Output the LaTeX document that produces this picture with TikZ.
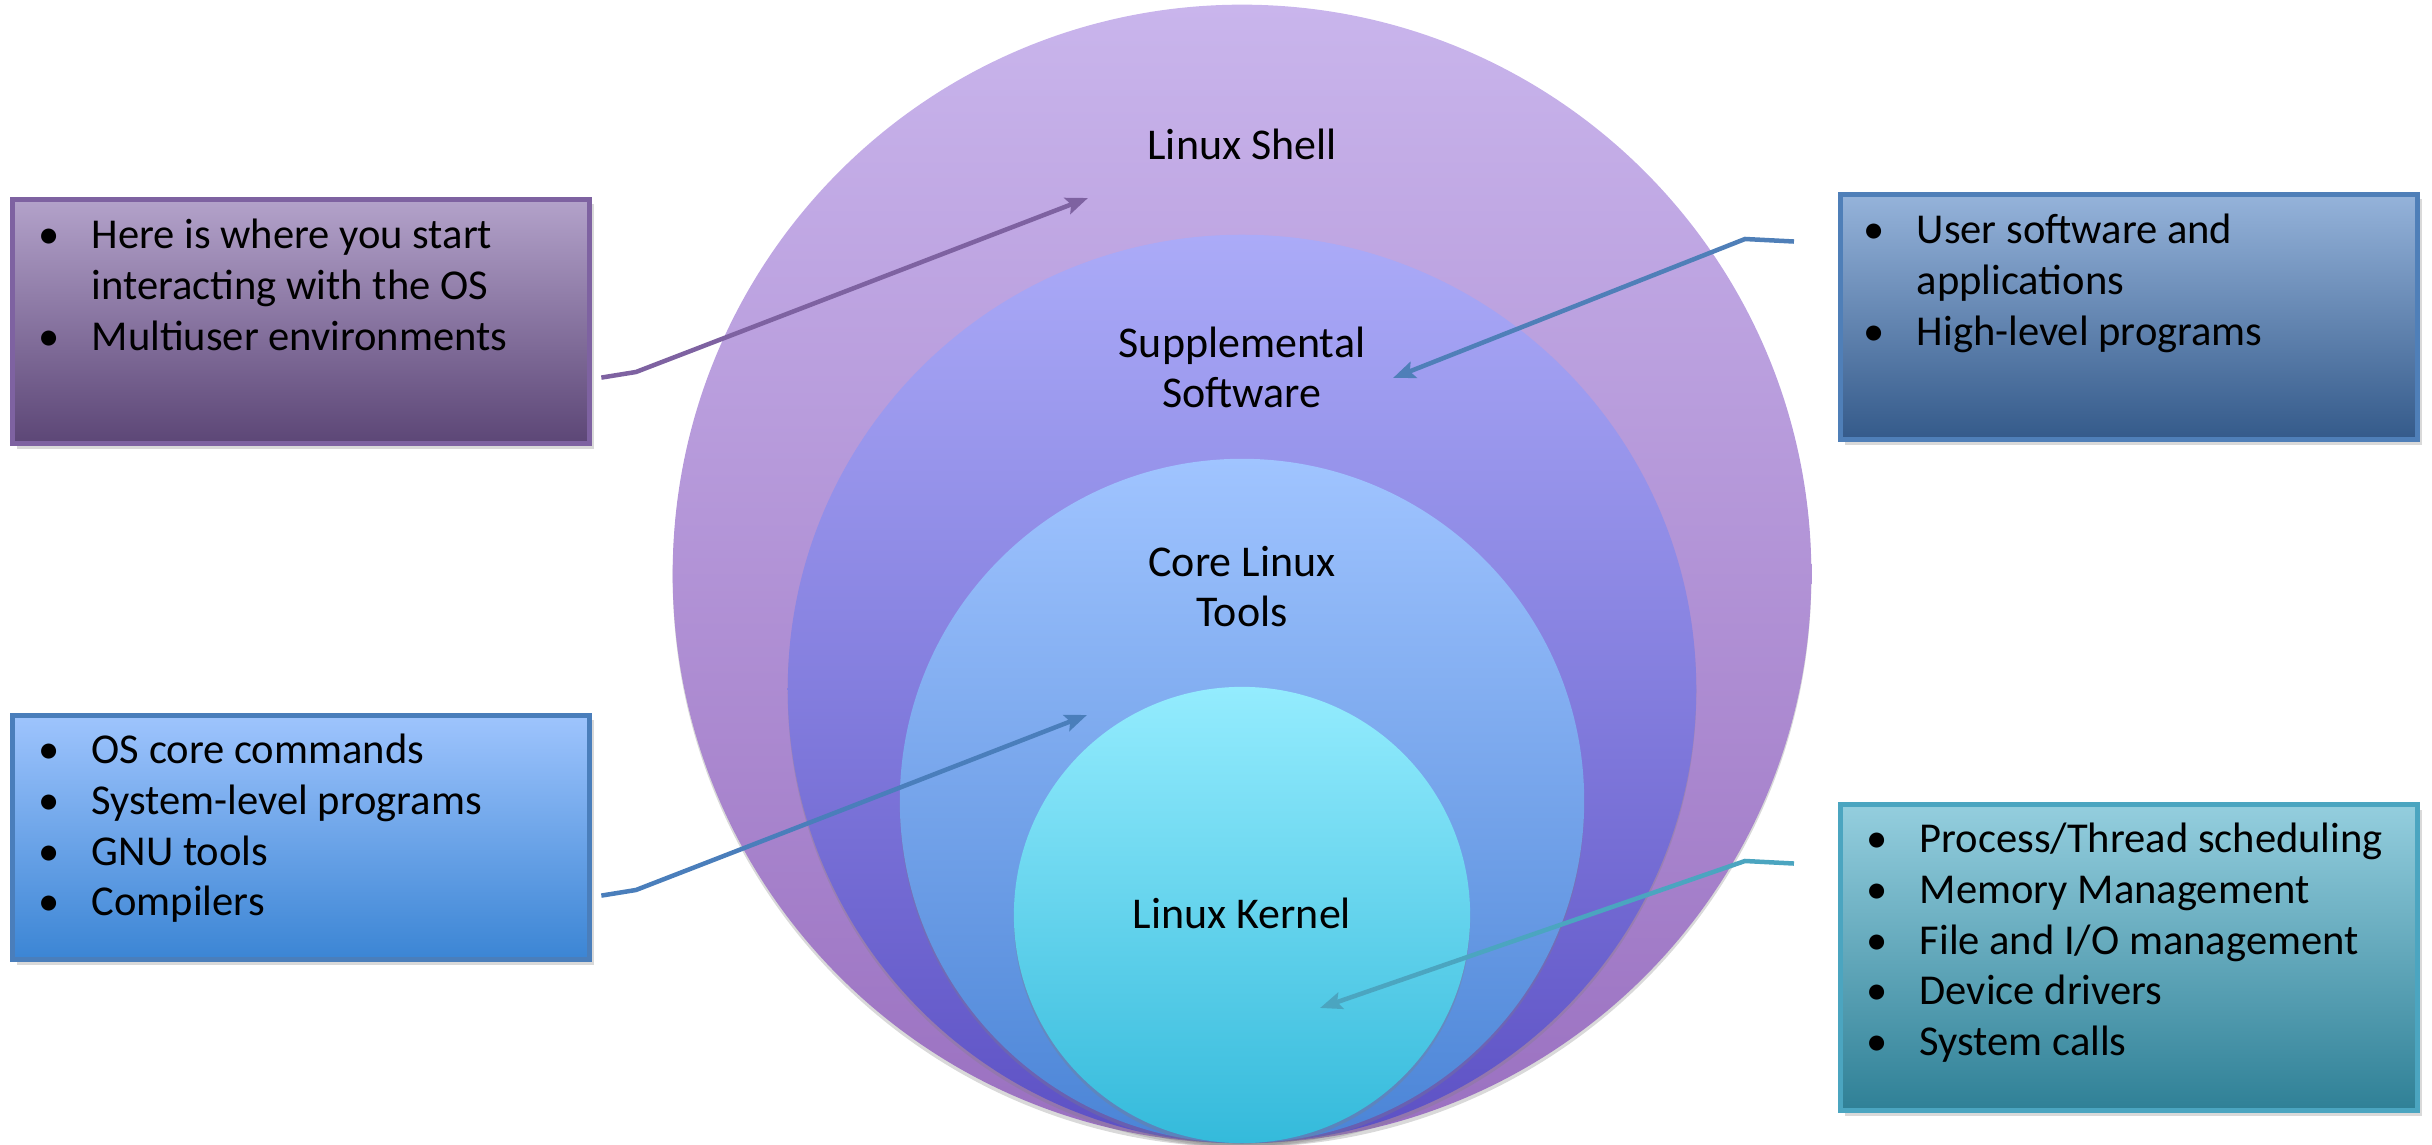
\documentclass[tikz,border=0pt]{standalone}
\usepackage{fontspec}
\setmainfont{Carlito}
\usetikzlibrary{arrows.meta,shadows}

\definecolor{shelltop}{HTML}{C9B5EC}
\definecolor{shellbot}{HTML}{9A70C0}
\definecolor{supptop}{HTML}{ABABF8}
\definecolor{suppbot}{HTML}{5C50C4}
\definecolor{coretop}{HTML}{A0C4FF}
\definecolor{corebot}{HTML}{4A84D6}
\definecolor{kerneltop}{HTML}{94ECFE}
\definecolor{kernelbot}{HTML}{34BADB}

\definecolor{shellline}{HTML}{7E62A1}
\definecolor{suppline}{HTML}{4F7FB8}
\definecolor{coreline}{HTML}{4A7EBB}
\definecolor{kernelline}{HTML}{4BA5C0}

\definecolor{shellboxtop}{HTML}{B3A2CA}
\definecolor{shellboxbot}{HTML}{5C4676}
\definecolor{suppboxtop}{HTML}{95B3DA}
\definecolor{suppboxbot}{HTML}{345A8A}
\definecolor{coreboxtop}{HTML}{9EC4FD}
\definecolor{coreboxbot}{HTML}{3B85D4}
\definecolor{kernelboxtop}{HTML}{94CEDE}
\definecolor{kernelboxbot}{HTML}{2F8096}

\newcommand{\bitem}[1]{\makebox[0.53cm][l]{\textbullet}#1}
\newcommand{\bcont}[1]{\hspace*{0.53cm}#1}
\newenvironment{blist}{\begin{tabular}[t]{@{}l@{}}}{\end{tabular}}

\begin{document}
\begin{tikzpicture}[x=0.01cm,y=0.01cm,
    layer/.style={drop shadow={shadow xshift=0cm,shadow yshift=-0.04cm,opacity=0.3}},
    infobox/.style={draw, line width=0.05cm, anchor=north west, minimum width=5.77cm,
        drop shadow={shadow xshift=0.04cm,shadow yshift=-0.05cm,opacity=0.3}},
    itemtext/.style={anchor=base west, inner sep=0pt,
        font=\fontsize{12.1}{14.5}\selectfont},
    layertext/.style={anchor=base, inner sep=0pt, align=center,
        font=\fontsize{12.5}{14.5}\selectfont},
    pointer/.style={line width=0.045cm, -{Stealth[length=0.22cm,width=0.17cm,inset=0.04cm]}}]
        \useasboundingbox (0,0) rectangle (2432,1145);

        % nested layers
        \shade[layer, top color=shelltop, bottom color=shellbot] (1242,571) circle[radius=5.69cm];
        \shade[layer, top color=supptop, bottom color=suppbot] (1242,456) circle[radius=4.54cm];
        \shade[layer, top color=coretop, bottom color=corebot] (1242,344) circle[radius=3.42cm];
        \shade[layer, top color=kerneltop, bottom color=kernelbot] (1242,230) circle[radius=2.28cm];

        % labels (base = last line)
        \node[layertext] (shell) at (1242,985) {Linux Shell};
        \node[layertext] (supp) at (1242,737) {Supplemental\\Software};
        \node[layertext] (core) at (1242,518) {Core Linux\\Tools};
        \node[layertext] (kernel) at (1242,216) {Linux Kernel};

        % boxes
        \node[infobox, minimum height=2.44cm, draw=shellline, top color=shellboxtop, bottom color=shellboxbot] (shellbox) at (10,948) {};
        \node[itemtext] (shelltext) at ([xshift=0.28cm,yshift=-0.51cm]shellbox.north west)
            {\begin{blist}\bitem{Here is where you start}\\\bcont{interacting with the OS}\\\bitem{Multiuser environments}\end{blist}};

        \node[infobox, minimum height=2.45cm, draw=suppline, top color=suppboxtop, bottom color=suppboxbot] (suppbox) at (1838,953) {};
        \node[itemtext] (supptext) at ([xshift=0.25cm,yshift=-0.51cm]suppbox.north west)
            {\begin{blist}\bitem{User software and}\\\bcont{applications}\\\bitem{High-level programs}\end{blist}};

        \node[infobox, minimum height=2.44cm, draw=coreline, top color=coreboxtop, bottom color=coreboxbot] (corebox) at (10,432) {};
        \node[itemtext] (coretext) at ([xshift=0.28cm,yshift=-0.50cm]corebox.north west)
            {\begin{blist}\bitem{OS core commands}\\\bitem{System-level programs}\\\bitem{GNU tools}\\\bitem{Compilers}\end{blist}};

        \node[infobox, minimum height=3.06cm, draw=kernelline, top color=kernelboxtop, bottom color=kernelboxbot] (kernelbox) at (1838,343) {};
        \node[itemtext] (kerneltext) at ([xshift=0.28cm,yshift=-0.50cm]kernelbox.north west)
            {\begin{blist}\bitem{Process/Thread scheduling}\\\bitem{Memory Management}\\\bitem{File and I/O management}\\\bitem{Device drivers}\\\bitem{System calls}\end{blist}};

        % pointers
        \coordinate (shellbend) at (636,773);
        \coordinate (shelltip) at (1088,947);
        \draw[pointer, shellline] ([xshift=0.09cm,yshift=-0.56cm]shellbox.east) -- (shellbend) -- (shelltip);
        \coordinate (suppbend) at (1745,906);
        \coordinate (supptip) at (1393,767);
        \draw[pointer, suppline] ([xshift=-0.44cm,yshift=0.755cm]suppbox.west) -- (suppbend) -- (supptip);
        \coordinate (corebend) at (636,255);
        \coordinate (coretip) at (1087,430);
        \draw[pointer, coreline] ([xshift=0.09cm,yshift=-0.58cm]corebox.east) -- (corebend) -- (coretip);
        \coordinate (kernelbend) at (1745,284);
        \coordinate (kerneltip) at (1320,137);
        \draw[pointer, kernelline] ([xshift=-0.44cm,yshift=0.94cm]kernelbox.west) -- (kernelbend) -- (kerneltip);
\end{tikzpicture}
\end{document}
